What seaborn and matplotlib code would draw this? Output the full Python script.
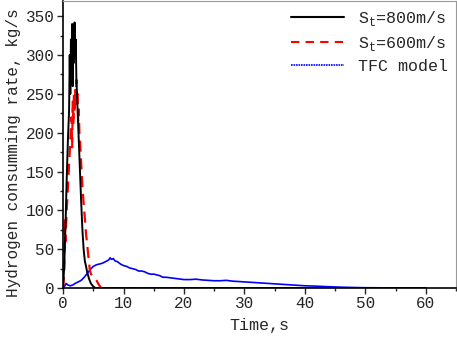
import matplotlib
matplotlib.use("Agg")
import matplotlib.pyplot as plt
from matplotlib.lines import Line2D
from matplotlib.ticker import MultipleLocator
import seaborn as sns
import pandas as pd

# ---- data ----
t_800 = [0, 0.2, 0.4, 0.6, 0.8, 1.0, 1.1, 1.2, 1.3, 1.4, 1.5, 1.6, 1.7, 1.8, 1.9, 2.0, 2.1, 2.2,
         2.4, 2.6, 2.8, 3.0, 3.2, 3.4, 3.6, 3.8, 4.0, 4.3, 4.6, 5.0, 5.4, 60]
v_800 = [0, 30, 80, 140, 190, 230, 300, 250, 320, 280, 340, 260, 330, 290, 342, 300, 320, 270,
         230, 190, 150, 110, 75, 50, 35, 28, 20, 12, 6, 2, 0, 0]

t_600 = [0, 0.2, 0.3, 0.4, 0.6, 0.8, 1.0, 1.2, 1.4, 1.5, 1.6, 1.7, 1.8, 1.9, 2.0, 2.1, 2.2, 2.3,
         2.4, 2.5, 2.6, 2.7, 2.8, 3.0, 3.2, 3.4, 3.6, 3.8, 4.0, 4.2, 4.4, 4.6, 5.0, 5.4, 5.8, 6.2, 6.5, 60]
v_600 = [0, 20, 90, 60, 100, 130, 160, 190, 220, 180, 240, 210, 250, 225, 255, 235, 268, 240,
         250, 215, 230, 200, 190, 160, 130, 110, 90, 70, 55, 40, 25, 18, 15, 12, 6, 1, 0, 0]

t_tfc = [0, 0.3, 0.5, 0.8, 1.2, 1.6, 2.0, 2.5, 3.0, 3.5, 4.0, 4.5, 5.0, 5.5, 6.0, 6.5, 7.0, 7.5,
         7.8, 8.0, 8.3, 8.6, 9.0, 9.5, 10, 10.5, 11, 11.5, 12, 12.5, 13, 13.5, 14, 14.5, 15, 15.5,
         16, 16.5, 17, 18, 19, 20, 21, 22, 23, 24, 25, 26, 27, 28, 29, 30, 32, 34, 36, 38, 40,
         42, 44, 46, 48, 50, 52, 55, 58, 60]
v_tfc = [0, 3, 6, 4, 3, 4, 6, 8, 10, 14, 19, 24, 28, 30, 31, 32, 34, 36,
         39, 37, 38, 35, 34, 31, 29, 28, 26, 25, 24, 22, 22, 21, 19, 18, 18, 17,
         16, 14, 14, 13, 12, 11, 11, 11.5, 10.5, 10, 9.5, 9.5, 10, 9, 8.5, 8, 7, 6, 5, 4, 3,
         2.5, 1.8, 1.2, 0.8, 0.5, 0.4, 0.3, 0.2, 0.1]

labels = ["S$_\\mathregular{t}$=800m/s", "S$_\\mathregular{t}$=600m/s", "TFC model"]
x_ticks = [0, 10, 20, 30, 40, 50, 60]
y_ticks = [0, 50, 100, 150, 200, 250, 300, 350]

sns.set_style("ticks")
plt.rcParams["font.family"] = ["Liberation Mono", "DejaVu Sans"]
plt.rcParams["mathtext.fontset"] = "custom"
plt.rcParams["mathtext.rm"] = "Liberation Mono"

fig = plt.figure(figsize=(4.57, 3.43), dpi=100)
ax = fig.add_axes([0.138, 0.160, 0.860, 0.838])

d800 = pd.DataFrame({"t": t_800, "v": v_800})
d600 = pd.DataFrame({"t": t_600, "v": v_600})
dtfc = pd.DataFrame({"t": t_tfc, "v": v_tfc})

sns.lineplot(data=dtfc, x="t", y="v", ax=ax, color="#0000ff", linewidth=1.2, estimator=None, sort=False)
sns.lineplot(data=d600, x="t", y="v", ax=ax, color="#ff0000", linewidth=1.6, estimator=None,
             sort=False, linestyle=(0, (5, 3)))
sns.lineplot(data=d800, x="t", y="v", ax=ax, color="black", linewidth=1.4, estimator=None, sort=False)

ax.set_xlim(0, 65)
ax.set_ylim(0, 370)
ax.set_xticks(x_ticks)
ax.set_yticks(y_ticks)
ax.xaxis.set_minor_locator(MultipleLocator(5))
ax.yaxis.set_minor_locator(MultipleLocator(25))
ax.tick_params(axis="both", which="major", direction="out", length=4, width=1, labelsize=11.5, pad=2)
ax.tick_params(axis="both", which="minor", direction="out", length=2.5, width=1)
ax.set_xlabel("Time,s", fontsize=12)
ax.set_ylabel("Hydrogen consumming rate, kg/s", fontsize=11.5)
ax.yaxis.set_label_coords(-0.107, 0.47)
ax.xaxis.set_label_coords(0.5, -0.105)
for s in ["left", "bottom"]:
    ax.spines[s].set_color("black")
    ax.spines[s].set_linewidth(1.2)
for s in ["top", "right"]:
    ax.spines[s].set_color("#999999")
    ax.spines[s].set_linewidth(0.8)

handles = [
    Line2D([], [], color="black", linewidth=1.5),
    Line2D([], [], color="#ff0000", linewidth=1.5, linestyle=(0, (4, 3))),
    Line2D([], [], color="#0000ff", linewidth=1.2, linestyle=(0, (1, 0.5))),
]
ax.legend(handles, labels, loc="upper right", frameon=False, fontsize=12,
          handlelength=3.2, handletextpad=0.8, borderaxespad=0.1, labelspacing=0.35)

fig.savefig("out.png", dpi=100)
